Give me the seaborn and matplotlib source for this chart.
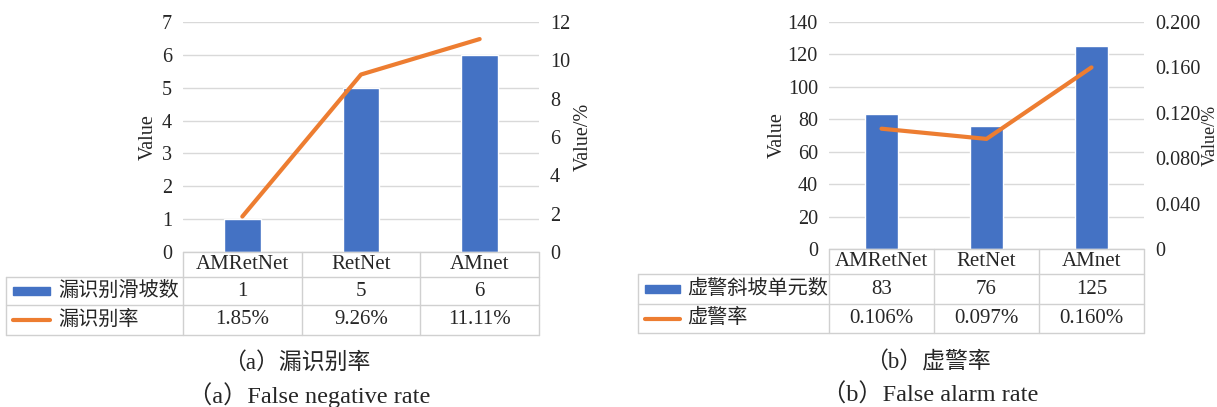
import numpy as np
import pandas as pd
import matplotlib
matplotlib.use("Agg")
import matplotlib.pyplot as plt
from matplotlib.lines import Line2D
from matplotlib.patches import Rectangle
from matplotlib.ticker import FuncFormatter
import seaborn as sns

# ---------------- data ----------------
categories = ["AMRetNet", "RetNet", "AMnet"]

fn_counts = [1, 5, 6]                 # 漏识别滑坡数
fn_rates = [1.85, 9.26, 11.11]        # 漏识别率 (%)
fn_count_labels = ["1", "5", "6"]
fn_rate_labels = ["1.85%", "9.26%", "11.11%"]

fa_counts = [83, 76, 125]             # 虚警斜坡单元数
fa_rates = [0.106, 0.097, 0.160]      # 虚警率 (%)
fa_count_labels = ["83", "76", "125"]
fa_rate_labels = ["0.106%", "0.097%", "0.160%"]

# ---------------- style ----------------
sns.set_style("white")
plt.rcParams["font.family"] = ["Liberation Serif", "Noto Sans CJK SC"]
plt.rcParams["axes.unicode_minus"] = False

BLUE = "#4472C4"
ORANGE = "#ED7D31"
GRID = "#d9d9d9"
TXT = "#262626"
FS = 14.5

W, H = 1217, 407
fig = plt.figure(figsize=(W / 100, H / 100), dpi=100)


def fx(x):
    return x / W


def fy(y):
    return 1 - y / H


def panel(x0, x1, ytop, ybot, rows, tab_left, leg_x0, leg_x1, text_x,
          counts, rates, count_labels, rate_labels, name_count, name_rate,
          ylim_l, yticks_l, ylim_r, yticks_r, rfmt, ylab_l_x, ylab_r_x,
          ylab_r_fs, cap_cn, cap_en, cap_cn_x, cap_en_x):
    ax = fig.add_axes([fx(x0), fy(ybot), fx(x1) - fx(x0), fy(ytop) - fy(ybot)])
    df = pd.DataFrame({"cat": categories, "count": counts, "rate": rates})
    sns.barplot(data=df, x="cat", y="count", color=BLUE, saturation=1,
                width=0.31, ax=ax)
    ax.set_xlim(-0.5, len(categories) - 0.5)
    ax.set_ylim(*ylim_l)
    ax.set_yticks(yticks_l)
    ax.yaxis.grid(True, color=GRID, lw=1)
    ax.set_axisbelow(True)
    ax.tick_params(axis="x", length=0, labelbottom=False)
    ax.tick_params(axis="y", length=0, pad=8, labelsize=FS, labelcolor=TXT)
    ax.set_xlabel("")
    ax.set_ylabel("")
    for s in ax.spines.values():
        s.set_visible(False)

    ax2 = ax.twinx()
    sns.lineplot(data=df, x="cat", y="rate", color=ORANGE, lw=3.0, sort=False,
                 ax=ax2)
    ax2.set_ylim(*ylim_r)
    ax2.set_yticks(yticks_r)
    ax2.yaxis.set_major_formatter(FuncFormatter(rfmt))
    ax2.tick_params(axis="y", length=0, pad=8, labelsize=FS, labelcolor=TXT)
    ax2.set_xlabel("")
    ax2.set_ylabel("")
    for s in ax2.spines.values():
        s.set_visible(False)
    ax.set_xlim(-0.5, len(categories) - 0.5)

    # y labels
    yc = (ytop + ybot) / 2
    fig.text(fx(ylab_l_x), fy(yc), "Value", rotation=90, ha="center",
             va="center", fontsize=FS, color=TXT)
    fig.text(fx(ylab_r_x), fy(yc), "Value/%", rotation=90, ha="center",
             va="center", fontsize=ylab_r_fs, color=TXT)

    # data table
    lc = "#d0d0d0"
    cols = np.linspace(x0, x1, len(categories) + 1)
    r0, r1, r2, r3 = [ybot + r for r in rows]
    fig.add_artist(Line2D([fx(x0), fx(x1)], [fy(r0), fy(r0)], color=lc,
                          lw=1, transform=fig.transFigure))
    for r in (r1, r2, r3):
        fig.add_artist(Line2D([fx(tab_left), fx(x1)], [fy(r), fy(r)],
                              color=lc, lw=1, transform=fig.transFigure))
    fig.add_artist(Line2D([fx(tab_left), fx(tab_left)], [fy(r1), fy(r3)],
                          color=lc, lw=1, transform=fig.transFigure))
    for c in cols:
        fig.add_artist(Line2D([fx(c), fx(c)], [fy(r0), fy(r3)], color=lc,
                              lw=1, transform=fig.transFigure))
    for i, cat in enumerate(categories):
        cx = (cols[i] + cols[i + 1]) / 2
        fig.text(fx(cx), fy((r0 + r1) / 2), cat, ha="center", va="center",
                 fontsize=FS + 0.5, color=TXT)
        fig.text(fx(cx), fy((r1 + r2) / 2), count_labels[i], ha="center",
                 va="center", fontsize=FS + 0.5, color=TXT)
        fig.text(fx(cx), fy((r2 + r3) / 2), rate_labels[i], ha="center",
                 va="center", fontsize=FS + 0.5, color=TXT)
    # legend keys
    m1 = (r1 + r2) / 2
    m2 = (r2 + r3) / 2
    fig.add_artist(Rectangle((fx(leg_x0), fy(m1 + 4)), fx(leg_x1) - fx(leg_x0),
                             fy(m1 - 4) - fy(m1 + 4), color=BLUE,
                             transform=fig.transFigure))
    fig.add_artist(Line2D([fx(leg_x0), fx(leg_x1)], [fy(m2), fy(m2)],
                          color=ORANGE, lw=3.0, solid_capstyle="round",
                          transform=fig.transFigure))
    fig.text(fx(text_x), fy(m1), name_count, ha="left", va="center",
             fontsize=FS, color=TXT)
    fig.text(fx(text_x), fy(m2), name_rate, ha="left", va="center",
             fontsize=FS, color=TXT)

    # captions
    fig.text(fx(cap_cn_x), fy(363), cap_cn, ha="center", va="center",
             fontsize=16.5, color=TXT)
    fig.text(fx(cap_en_x), fy(395), cap_en, ha="center", va="center",
             fontsize=17.5, color=TXT)


def fmt_int(v, pos):
    return f"{v:g}"


def fmt_3(v, pos):
    return "0" if v == 0 else f"{v:.3f}"


panel(183, 539, 22, 252, [0, 25, 53, 83], 6, 13, 50, 58,
      fn_counts, fn_rates, fn_count_labels, fn_rate_labels,
      "漏识别滑坡数", "漏识别率",
      (0, 7), np.arange(0, 8, 1), (0, 12), np.arange(0, 13, 2), fmt_int,
      148, 583, FS, "（a）漏识别率", "（a）False negative rate", 297, 309)

panel(829, 1144, 22, 249, [0, 25, 55, 84], 638, 645, 680, 687,
      fa_counts, fa_rates, fa_count_labels, fa_rate_labels,
      "虚警斜坡单元数", "虚警率",
      (0, 140), np.arange(0, 141, 20), (0, 0.2), np.linspace(0, 0.2, 6),
      fmt_3, 777, 1210, 13, "（b）虚警率", "（b）False alarm rate", 928, 930)

fig.savefig("out.png", dpi=100)
